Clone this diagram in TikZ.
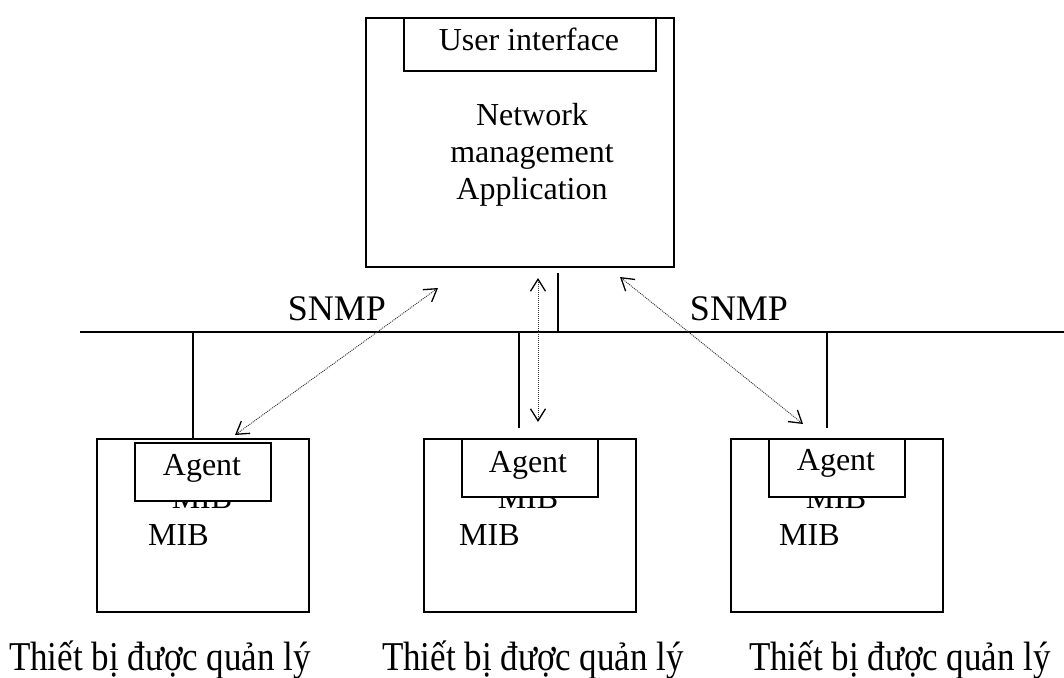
\documentclass[tikz,border=0pt]{standalone}
\usepackage{fontspec}
\setmainfont{Liberation Serif}
\usetikzlibrary{arrows.meta,calc}

\tikzset{
  box/.style={draw, line width=1.6pt, fill=white, inner sep=0pt, anchor=north west},
  wire/.style={line width=1.6pt},
  barb/.tip={Straight Barb[length=12pt,width=15pt,line width=1.3pt,color=black]},
  msg/.style={line width=0.9pt, draw=black!80, dash pattern=on 1pt off 1pt, barb-barb},
  txt/.style={inner sep=0pt, font=\fontsize{32}{37}\selectfont},
  proto/.style={inner sep=0pt, font=\fontsize{36}{40}\selectfont},
  devname/.style={inner sep=0pt, anchor=base, font=\fontsize{35}{40}\selectfont},
}

\begin{document}
\begin{tikzpicture}[x=1pt, y=-1pt]
\useasboundingbox (0,0) rectangle (1064,677);

% manager station
\node[box, minimum width=308pt, minimum height=249pt] (nms) at (365,17) {};
\node[box, minimum width=252pt, minimum height=53pt] (ui) at (403,17) {};
\node[txt, anchor=base] (uit) at (529,50) {User interface};
\node[txt, anchor=north, align=center] (app) at (532,103) {Network\\management\\Application};

% bus and taps
\coordinate (busL) at (80,332);
\coordinate (busR) at (1064,332);
\draw[wire] (busL) -- (busR);
\coordinate (tapNMS) at (558,332);
\coordinate (nmsFoot) at (558,273);
\draw[wire] (nmsFoot) -- (tapNMS);

\node[proto, anchor=base] (snmpL) at (337,320) {SNMP};
\node[proto, anchor=base] (snmpR) at (739,320) {SNMP};

% managed devices: outer box, hidden MIB, agent box, MIB
\foreach \n/\bx/\ax/\ay/\ab/\cx/\mx in {A/96/134/442/475/202/148, B/423/461/438/472/528/459, C/730/768/438/470/836/779}{
  \node[box, minimum width=212pt, minimum height=173pt] (dev\n) at (\bx,438) {};
  \node[txt, anchor=base] (mibh\n) at (\cx,508) {MIB};
  \node[box, minimum width=136pt, minimum height=58pt] (agb\n) at (\ax,\ay) {};
  \node[txt, anchor=base] (agt\n) at (\cx,\ab) {Agent};
  \node[txt, anchor=base west] (mib\n) at (\mx,545) {MIB};
}

% drops from bus to devices
\coordinate (tapA) at (193,332);
\coordinate (tapB) at (519,332);
\coordinate (tapC) at (827,332);
\coordinate (endB) at (519,428);
\coordinate (endC) at (827,428);
\draw[wire] (tapA) -- (tapA |- devA.north);
\draw[wire] (tapB) -- (endB);
\draw[wire] (tapC) -- (endC);

% SNMP exchanges
\coordinate (m1) at (438,288);
\coordinate (a1) at (235,435);
\coordinate (m2) at (538,278);
\coordinate (a2) at (538,422);
\coordinate (m3) at (620,277);
\coordinate (a3) at (803,424);
\draw[msg] (a1) -- (m1);
\draw[msg] (m2) -- (a2);
\draw[msg] (m3) -- (a3);

% device captions
\node[devname] (capA) at (160,670) {\scalebox{1}[1.17]{Thiết bị được quản lý}};
\node[devname] (capB) at (533,670) {\scalebox{1}[1.17]{Thiết bị được quản lý}};
\node[devname] (capC) at (900,670) {\scalebox{1}[1.17]{Thiết bị được quản lý}};
\end{tikzpicture}
\end{document}
